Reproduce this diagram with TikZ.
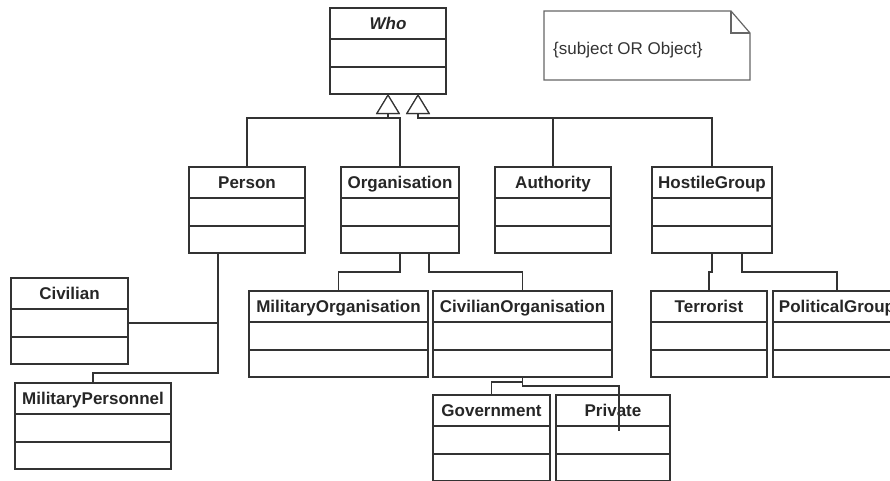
\documentclass[tikz,border=0pt]{standalone}
\usepackage{fontspec}
\setmainfont{Liberation Sans}
\usetikzlibrary{arrows.meta, positioning}

\definecolor{linec}{HTML}{333333}
\definecolor{notec}{HTML}{666666}

% class box: name, top left corner, width, title
\newcommand{\umlclass}[4]{%
  \node[head, minimum width=#3pt] (#1) at #2 {#4};
  \node[comp, minimum width=#3pt, minimum height=28pt, below=0pt of #1] (#1-a) {};
  \node[comp, minimum width=#3pt, minimum height=27pt, below=0pt of #1-a] (#1-b) {};
}

\begin{document}
\begin{tikzpicture}[x=1pt, y=-1pt,
head/.style={draw=linec, line width=1.2pt, anchor=north west, minimum height=31pt,
  inner sep=0pt, outer sep=0pt, text height=12pt, text depth=0pt, text=black!85,
  font=\bfseries\fontsize{17pt}{20pt}\selectfont},
comp/.style={draw=linec, line width=1.2pt, inner sep=0pt, outer sep=0pt},
conn/.style={draw=linec, line width=1.2pt},
gen/.style={conn, -{Triangle[open, length=20pt, width=24pt, fill=white]}}]
\useasboundingbox (0,0) rectangle (890,480);

%classes
\umlclass{who}{(330,8)}{116}{\itshape Who}
\umlclass{person}{(189,167)}{116}{Person}
\umlclass{organisation}{(341,167)}{118}{Organisation}
\umlclass{authority}{(495,167)}{116}{Authority}
\umlclass{hostile}{(652,167)}{120}{HostileGroup}
\umlclass{civilian}{(11,278)}{117}{Civilian}
\umlclass{milpers}{(15,383)}{156}{MilitaryPersonnel}
\umlclass{milorg}{(249,291)}{179}{MilitaryOrganisation}
\umlclass{civorg}{(433,291)}{179}{CivilianOrganisation}
\umlclass{government}{(433,395)}{117}{Government}
\umlclass{private}{(556,395)}{114}{Private}
\umlclass{terrorist}{(651,291)}{116}{Terrorist}
\umlclass{political}{(773,291)}{128}{PoliticalGroup}

%note
\draw[notec, line width=1.2pt] (544,11) -- (731,11) -- (750,33) -- (750,80) -- (544,80) -- cycle;
\draw[notec, line width=1.2pt] (731,11) |- (750,33);
\node[anchor=west, inner sep=0pt, text=black!80, font=\fontsize{17pt}{20pt}\selectfont] (note) at (553,50) {\{subject OR Object\}};

%generalisation
\draw[gen] (person.north) |- ([yshift=-24pt]who-b.south) -- (who-b.south);
\draw[gen] (organisation.north) |- ([yshift=-24pt]who-b.south) -- (who-b.south);
\draw[gen] (authority.north) |- ([xshift=30pt,yshift=-24pt]who-b.south) -- ([xshift=30pt]who-b.south);
\draw[gen] (hostile.north) |- ([xshift=30pt,yshift=-24pt]who-b.south) -- ([xshift=30pt]who-b.south);

%lower links
\coordinate (pdrop) at ([xshift=-29pt]person-b.south);
\coordinate (privend) at (619,431);
\draw[conn] (pdrop) |- ([yshift=10pt]milpers.north) -- (milpers.north);
\draw[conn] (civilian-a.east) -- (civilian-a.east -| pdrop);
\draw[conn] (organisation-b.south) -- ++(0,19) -| (milorg.north);
\draw[conn] ([xshift=29pt]organisation-b.south) -- ++(0,19) -| (civorg.north);
\draw[conn] (civorg-b.south) -- ++(0,5) -| (government.north);
\draw[conn] (civorg-b.south) -- ++(0,9) -| (privend);
\draw[conn] (hostile-b.south) -- ++(0,19) -| (terrorist.north);
\draw[conn] ([xshift=30pt]hostile-b.south) -- ++(0,19) -| (political.north);

\end{tikzpicture}
\end{document}
